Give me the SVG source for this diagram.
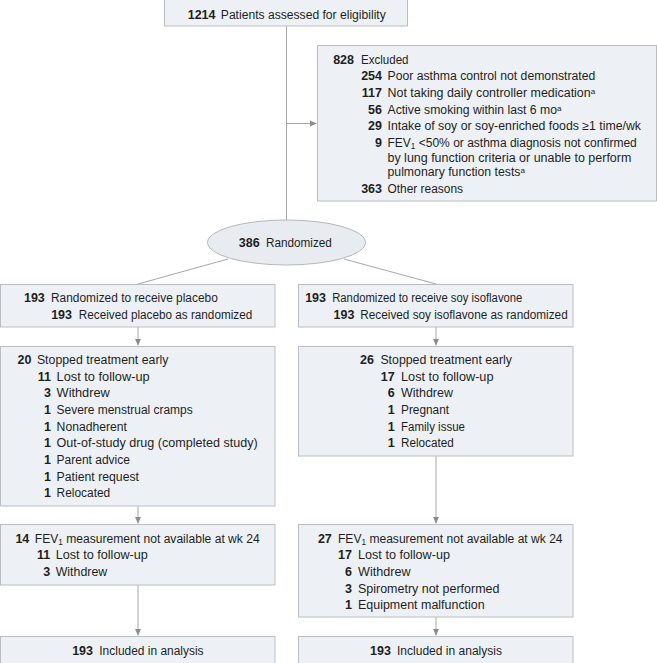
<svg xmlns="http://www.w3.org/2000/svg" width="657" height="663" viewBox="0 0 657 663">
<defs>
<style>
.box{fill:#edf1f5;stroke:#babec3;stroke-width:1}
.ln{fill:none;stroke:#a8a8a8;stroke-width:1}
text{font-family:"Liberation Sans",Arial,sans-serif;font-size:12.5px;fill:#1e1e1e}
.n{font-weight:bold;text-anchor:end}
.sup{font-size:8px}
.sub{font-size:8.5px}
</style>
<marker id="ah" markerUnits="userSpaceOnUse" markerWidth="8" markerHeight="8" refX="7" refY="4" orient="auto">
<path d="M0,0.8 L7,4 L0,7.2 Z" fill="#8c8c8c"/>
</marker>
</defs>
<rect width="657" height="663" fill="#ffffff"/>

<g id="connectors">
<line class="ln" x1="286.5" y1="26" x2="286.5" y2="220"/>
<line class="ln" x1="286.5" y1="123.5" x2="316.5" y2="123.5" marker-end="url(#ah)"/>
<line class="ln" x1="228" y1="259" x2="138" y2="284"/>
<line class="ln" x1="344" y1="259" x2="436" y2="284"/>
<line class="ln" x1="138" y1="327" x2="138" y2="345.5" marker-end="url(#ah)"/>
<line class="ln" x1="436" y1="327" x2="436" y2="345.5" marker-end="url(#ah)"/>
<line class="ln" x1="138" y1="506" x2="138" y2="523.5" marker-end="url(#ah)"/>
<line class="ln" x1="436" y1="456" x2="436" y2="523.5" marker-end="url(#ah)"/>
<line class="ln" x1="138" y1="585" x2="138" y2="635.5" marker-end="url(#ah)"/>
<line class="ln" x1="436" y1="617" x2="436" y2="635.5" marker-end="url(#ah)"/>
</g>

<g id="assessed">
<rect class="box" x="164.5" y="-0.5" width="243" height="26.5"/>
<text class="n" x="215.5" y="19">1214</text>
<text x="220.8" y="19" textLength="165" lengthAdjust="spacingAndGlyphs">Patients assessed for eligibility</text>
</g>

<g id="excluded">
<rect class="box" x="317.5" y="45.5" width="339" height="155.5"/>
<text class="n" x="354" y="63.5">828</text>
<text x="361" y="63.5" textLength="47.5" lengthAdjust="spacingAndGlyphs">Excluded</text>
<text class="n" x="382" y="80.2">254</text>
<text x="387.5" y="80.2" textLength="207.8" lengthAdjust="spacingAndGlyphs">Poor asthma control not demonstrated</text>
<text class="n" x="382" y="96.8">117</text>
<text x="387.5" y="96.8"><tspan textLength="203.2" lengthAdjust="spacingAndGlyphs">Not taking daily controller medication</tspan><tspan class="sup" dy="-3">a</tspan></text>
<text class="n" x="382" y="113.5">56</text>
<text x="387.5" y="113.5"><tspan textLength="169.5" lengthAdjust="spacingAndGlyphs">Active smoking within last 6 mo</tspan><tspan class="sup" dy="-3">a</tspan></text>
<text class="n" x="382" y="130.2">29</text>
<text x="387.5" y="130.2" textLength="253.5" lengthAdjust="spacingAndGlyphs">Intake of soy or soy-enriched foods ≥1 time/wk</text>
<text class="n" x="382" y="146.8">9</text>
<text x="387.5" y="146.8" textLength="249.3" lengthAdjust="spacingAndGlyphs">FEV<tspan class="sub" dy="2.5">1</tspan><tspan dy="-2.5"> &lt;50% or asthma diagnosis not confirmed</tspan></text>
<text x="387.5" y="161.5" textLength="243.8" lengthAdjust="spacingAndGlyphs">by lung function criteria or unable to perform</text>
<text x="387.5" y="176.2"><tspan textLength="133" lengthAdjust="spacingAndGlyphs">pulmonary function tests</tspan><tspan class="sup" dy="-3">a</tspan></text>
<text class="n" x="382" y="192.5">363</text>
<text x="387.5" y="192.5" textLength="75.5" lengthAdjust="spacingAndGlyphs">Other reasons</text>
</g>

<g id="randomized">
<ellipse cx="286.5" cy="242.5" rx="79" ry="22.5" fill="#e8ecf0" stroke="#b4b8bd" stroke-width="1"/>
<text class="n" x="259.7" y="247">386</text>
<text x="266" y="247" textLength="65.8" lengthAdjust="spacingAndGlyphs">Randomized</text>
</g>

<g id="placebo-alloc">
<rect class="box" x="0.5" y="284.5" width="274.5" height="42.5"/>
<text class="n" x="44.8" y="302.2">193</text>
<text x="51" y="302.2" textLength="166.8" lengthAdjust="spacingAndGlyphs">Randomized to receive placebo</text>
<text class="n" x="72" y="318.7">193</text>
<text x="78.8" y="318.7" textLength="173.4" lengthAdjust="spacingAndGlyphs">Received placebo as randomized</text>
</g>

<g id="soy-alloc">
<rect class="box" x="298.5" y="284.5" width="274.5" height="42.5"/>
<text class="n" x="326" y="302.2">193</text>
<text x="332.2" y="302.2" textLength="190.2" lengthAdjust="spacingAndGlyphs">Randomized to receive soy isoflavone</text>
<text class="n" x="354.4" y="318.7">193</text>
<text x="360.3" y="318.7" textLength="207.4" lengthAdjust="spacingAndGlyphs">Received soy isoflavone as randomized</text>
</g>

<g id="placebo-stopped">
<rect class="box" x="0.5" y="346.5" width="274.5" height="159.5"/>
<text class="n" x="31.4" y="363.8">20</text>
<text x="36.9" y="363.8" textLength="131.5" lengthAdjust="spacingAndGlyphs">Stopped treatment early</text>
<text class="n" x="51" y="380.5">11</text>
<text x="56.6" y="380.5" textLength="93" lengthAdjust="spacingAndGlyphs">Lost to follow-up</text>
<text class="n" x="51" y="397.2">3</text>
<text x="56.6" y="397.2" textLength="53.2" lengthAdjust="spacingAndGlyphs">Withdrew</text>
<text class="n" x="51" y="413.8">1</text>
<text x="56.6" y="413.8" textLength="136.1" lengthAdjust="spacingAndGlyphs">Severe menstrual cramps</text>
<text class="n" x="51" y="430.5">1</text>
<text x="56.6" y="430.5" textLength="70.4" lengthAdjust="spacingAndGlyphs">Nonadherent</text>
<text class="n" x="51" y="447.2">1</text>
<text x="56.6" y="447.2" textLength="201" lengthAdjust="spacingAndGlyphs">Out-of-study drug (completed study)</text>
<text class="n" x="51" y="463.8">1</text>
<text x="56.6" y="463.8" textLength="73.3" lengthAdjust="spacingAndGlyphs">Parent advice</text>
<text class="n" x="51" y="480.5">1</text>
<text x="56.6" y="480.5" textLength="82.4" lengthAdjust="spacingAndGlyphs">Patient request</text>
<text class="n" x="51" y="497.2">1</text>
<text x="56.6" y="497.2" textLength="53.6" lengthAdjust="spacingAndGlyphs">Relocated</text>
</g>

<g id="soy-stopped">
<rect class="box" x="298.5" y="346.5" width="274.5" height="109.5"/>
<text class="n" x="374" y="363.8">26</text>
<text x="380.4" y="363.8" textLength="131.6" lengthAdjust="spacingAndGlyphs">Stopped treatment early</text>
<text class="n" x="394.6" y="380.5">17</text>
<text x="401" y="380.5" textLength="92.5" lengthAdjust="spacingAndGlyphs">Lost to follow-up</text>
<text class="n" x="394.6" y="397.2">6</text>
<text x="401" y="397.2" textLength="51.9" lengthAdjust="spacingAndGlyphs">Withdrew</text>
<text class="n" x="394.6" y="413.8">1</text>
<text x="401" y="413.8" textLength="48" lengthAdjust="spacingAndGlyphs">Pregnant</text>
<text class="n" x="394.6" y="430.5">1</text>
<text x="401" y="430.5" textLength="64" lengthAdjust="spacingAndGlyphs">Family issue</text>
<text class="n" x="394.6" y="447.2">1</text>
<text x="401" y="447.2" textLength="52.7" lengthAdjust="spacingAndGlyphs">Relocated</text>
</g>

<g id="placebo-fev">
<rect class="box" x="0.5" y="524.5" width="274.5" height="60.5"/>
<text class="n" x="29.3" y="542.5">14</text>
<text x="34.8" y="542.5" textLength="224.9" lengthAdjust="spacingAndGlyphs">FEV<tspan class="sub" dy="2.5">1</tspan><tspan dy="-2.5"> measurement not available at wk 24</tspan></text>
<text class="n" x="50.3" y="559.2">11</text>
<text x="55.7" y="559.2" textLength="92.2" lengthAdjust="spacingAndGlyphs">Lost to follow-up</text>
<text class="n" x="50.3" y="575.8">3</text>
<text x="55.7" y="575.8" textLength="51.5" lengthAdjust="spacingAndGlyphs">Withdrew</text>
</g>

<g id="soy-fev">
<rect class="box" x="298.5" y="524.5" width="274.5" height="92.5"/>
<text class="n" x="331.8" y="542.5">27</text>
<text x="338" y="542.5" textLength="224.6" lengthAdjust="spacingAndGlyphs">FEV<tspan class="sub" dy="2.5">1</tspan><tspan dy="-2.5"> measurement not available at wk 24</tspan></text>
<text class="n" x="352" y="559.2">17</text>
<text x="358" y="559.2" textLength="92" lengthAdjust="spacingAndGlyphs">Lost to follow-up</text>
<text class="n" x="352" y="575.8">6</text>
<text x="358" y="575.8" textLength="52.5" lengthAdjust="spacingAndGlyphs">Withdrew</text>
<text class="n" x="352" y="592.5">3</text>
<text x="358" y="592.5" textLength="141.4" lengthAdjust="spacingAndGlyphs">Spirometry not performed</text>
<text class="n" x="352" y="609.2">1</text>
<text x="358" y="609.2" textLength="126.7" lengthAdjust="spacingAndGlyphs">Equipment malfunction</text>
</g>

<g id="placebo-analysis">
<rect class="box" x="0.5" y="636.5" width="274.5" height="27"/>
<text class="n" x="93" y="654.5">193</text>
<text x="99.3" y="654.5" textLength="104.3" lengthAdjust="spacingAndGlyphs">Included in analysis</text>
</g>

<g id="soy-analysis">
<rect class="box" x="298.5" y="636.5" width="274.5" height="27"/>
<text class="n" x="390.9" y="654.5">193</text>
<text x="397" y="654.5" textLength="105" lengthAdjust="spacingAndGlyphs">Included in analysis</text>
</g>
</svg>
